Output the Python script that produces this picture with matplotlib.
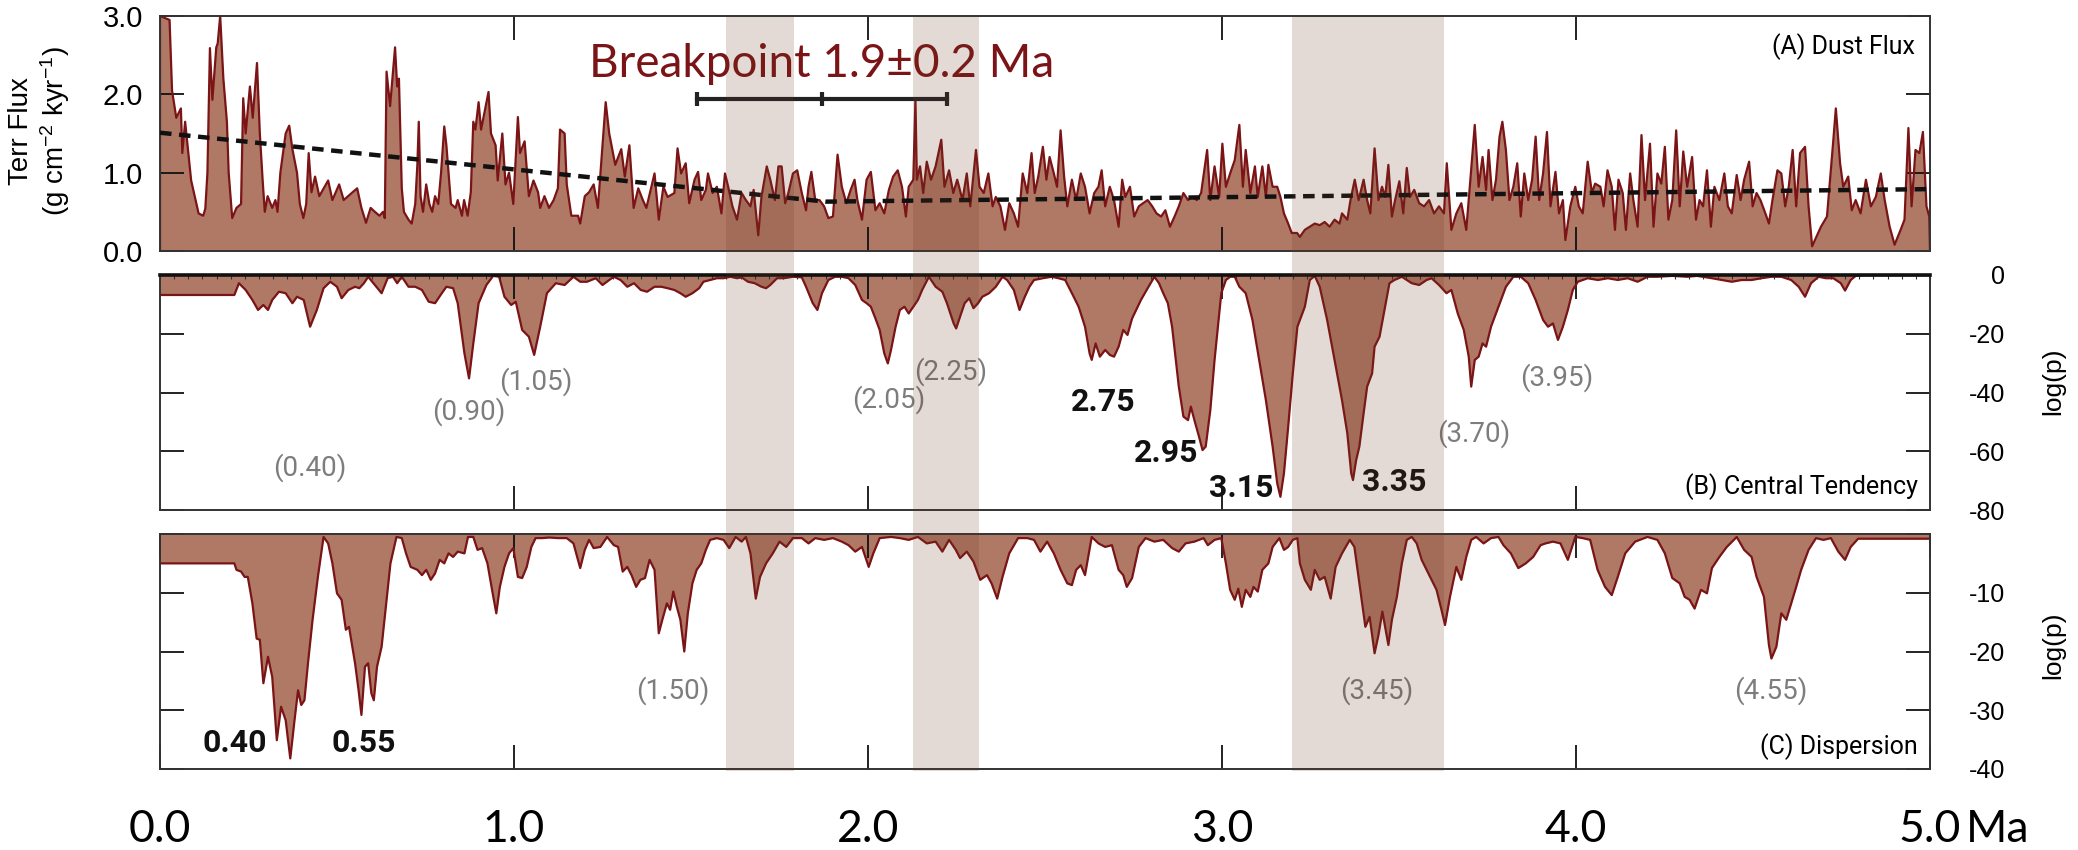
import matplotlib
matplotlib.use("Agg")
import matplotlib.pyplot as plt
from matplotlib.patches import Rectangle
from matplotlib.transforms import blended_transform_factory
from matplotlib.ticker import MultipleLocator

plt.rcParams['mathtext.fontset'] = 'custom'
plt.rcParams['mathtext.rm'] = 'Liberation Sans'
plt.rcParams['mathtext.default'] = 'rm'

# ---------------- (A) Dust flux (g cm-2 kyr-1) vs age (Ma) ----------------
dust_age = [
    0.000, 0.000, 0.027, 0.034, 0.046, 0.059, 0.063, 0.071, 0.088, 0.109, 0.122,
    0.128, 0.134, 0.141, 0.148, 0.159, 0.163, 0.170, 0.179, 0.189, 0.194,
    0.204, 0.216, 0.229, 0.235, 0.242, 0.254, 0.262, 0.274, 0.282, 0.290,
    0.296, 0.304, 0.317, 0.326, 0.332, 0.340, 0.355, 0.365, 0.374, 0.387,
    0.395, 0.405, 0.413, 0.420, 0.428, 0.438, 0.450, 0.475, 0.487, 0.506,
    0.519, 0.544, 0.557, 0.569, 0.582, 0.595, 0.607, 0.620, 0.630, 0.635,
    0.640, 0.650, 0.664, 0.670, 0.675, 0.683, 0.689, 0.702, 0.711, 0.721,
    0.727, 0.731, 0.736, 0.743, 0.752, 0.761, 0.769, 0.777, 0.786, 0.794,
    0.803, 0.809, 0.822, 0.835, 0.841, 0.853, 0.859, 0.869, 0.878, 0.885,
    0.891, 0.900, 0.907, 0.928, 0.935, 0.948, 0.954, 0.967, 0.976, 0.986,
    0.998, 1.011, 1.017, 1.030, 1.042, 1.055, 1.068, 1.074, 1.086, 1.099,
    1.112, 1.124, 1.130, 1.143, 1.149, 1.162, 1.181, 1.187, 1.200, 1.212,
    1.225, 1.237, 1.259, 1.269, 1.286, 1.303, 1.313, 1.326, 1.338, 1.351,
    1.364, 1.374,
    1.397, 1.409, 1.422, 1.434, 1.453, 1.462, 1.472, 1.485, 1.495, 1.510,
    1.520, 1.529, 1.542, 1.548, 1.561, 1.573, 1.586, 1.596, 1.605, 1.617,
    1.630, 1.643, 1.655, 1.668, 1.677, 1.690, 1.699, 1.714, 1.724, 1.737,
    1.747, 1.756, 1.766, 1.775, 1.788, 1.800, 1.813, 1.825, 1.832, 1.840,
    1.851, 1.863, 1.876, 1.888, 1.901, 1.914, 1.926, 1.939, 1.951, 1.962,
    1.970, 1.983, 1.996, 2.008, 2.021, 2.033, 2.046, 2.059, 2.071, 2.084,
    2.096, 2.107, 2.115, 2.128, 2.134, 2.138, 2.147, 2.156, 2.166, 2.178,
    2.191, 2.207, 2.216, 2.229, 2.241, 2.252, 2.267, 2.279, 2.289, 2.305,
    2.315, 2.327, 2.340, 2.352, 2.361, 2.374, 2.387, 2.399, 2.412, 2.424,
    2.437, 2.450, 2.462, 2.471, 2.481, 2.494, 2.504, 2.513, 2.525, 2.534,
    2.544, 2.554, 2.563, 2.576, 2.588, 2.601, 2.613, 2.626, 2.639, 2.651,
    2.660, 2.670, 2.683, 2.695, 2.708, 2.718, 2.727, 2.740, 2.752, 2.765,
    2.777, 2.790, 2.803, 2.815, 2.828, 2.840, 2.853, 2.866, 2.878, 2.891,
    2.904, 2.916, 2.929, 2.941, 2.958, 2.967, 2.979, 2.992, 3.001, 3.011,
    3.023, 3.036, 3.049, 3.059, 3.067, 3.080, 3.093, 3.101, 3.114, 3.124,
    3.131, 3.143, 3.156, 3.165, 3.175, 3.187, 3.197, 3.212,
    3.220, 3.234, 3.248, 3.262, 3.276, 3.290, 3.304, 3.318, 3.332, 3.339,
    3.354, 3.363, 3.375, 3.386, 3.400, 3.410, 3.419, 3.431, 3.442, 3.452,
    3.461, 3.470, 3.480, 3.489, 3.501, 3.512, 3.522, 3.531, 3.543, 3.557,
    3.571, 3.585, 3.599, 3.613, 3.627, 3.635, 3.648, 3.662, 3.676, 3.690,
    3.700, 3.714, 3.725, 3.736, 3.746, 3.753, 3.764, 3.774, 3.784, 3.792,
    3.802, 3.812, 3.823, 3.834, 3.844, 3.854, 3.865, 3.876, 3.886, 3.896,
    3.907, 3.918, 3.928, 3.942, 3.952, 3.963, 3.970, 3.984, 3.998, 4.008,
    4.019, 4.033, 4.045, 4.054, 4.069, 4.078, 4.089, 4.101, 4.110, 4.120,
    4.132, 4.141, 4.153, 4.162, 4.174, 4.185, 4.195, 4.209, 4.219, 4.230,
    4.241, 4.251, 4.261, 4.272, 4.283, 4.293, 4.303, 4.314, 4.328, 4.339,
    4.349, 4.359, 4.370, 4.381, 4.391, 4.405, 4.419, 4.429, 4.440, 4.454,
    4.465, 4.475, 4.489, 4.499, 4.510, 4.521, 4.535, 4.545, 4.555, 4.569,
    4.580, 4.591, 4.601, 4.612, 4.622, 4.633, 4.647, 4.657, 4.667, 4.692,
    4.709, 4.727, 4.734, 4.746, 4.755, 4.769, 4.779, 4.790, 4.804, 4.819,
    4.833, 4.847, 4.861, 4.872, 4.886, 4.900, 4.917, 4.928, 4.939, 4.948,
    4.959, 4.970, 4.980, 4.990, 4.998, 5.000,
]
dust_flux = [
    0.00, 3.00, 2.95, 2.05, 1.70, 1.82, 1.25, 1.65, 0.90, 0.48, 0.45,
    0.54, 1.00, 2.59, 1.93, 2.60, 2.65, 3.00, 2.20, 1.65, 1.00,
    0.42, 0.55, 0.60, 1.95, 1.50, 2.10, 1.70, 2.40, 1.50, 0.90,
    0.50, 0.70, 0.55, 0.65, 0.50, 1.00, 1.50, 1.60, 1.30, 1.00,
    0.60, 0.42, 0.60, 1.25, 0.75, 0.95, 0.70, 0.90, 0.65, 0.85,
    0.65, 0.75, 0.80, 0.55, 0.36, 0.55, 0.50, 0.45, 0.50, 0.42,
    2.29, 1.85, 2.60, 2.10, 2.20, 0.80, 0.50, 0.40, 0.35, 0.60,
    1.10, 1.65, 0.70, 0.50, 0.85, 0.60, 0.50, 0.70, 0.60, 1.00,
    1.59, 1.35, 0.60, 0.55, 0.65, 0.45, 0.65, 0.45, 0.75, 1.65,
    1.55, 1.90, 1.55, 2.03, 1.50, 1.35, 0.90, 1.50, 0.85, 1.00,
    0.60, 1.71, 1.25, 1.40, 0.70, 0.90, 0.75, 0.55, 0.70, 0.55,
    0.65, 0.80, 1.55, 1.50, 0.85, 0.45, 0.45, 0.35, 0.70, 0.75,
    0.85, 0.55, 1.90, 1.50, 1.10, 1.30, 0.95, 1.35, 0.55, 0.80,
    0.65, 0.55,
    0.99, 0.40, 0.82, 0.69, 0.74, 1.31, 0.99, 1.12, 0.61, 0.91,
    1.01, 0.65, 0.78, 0.99, 0.74, 0.82, 0.48, 0.99, 0.82, 0.57,
    0.40, 0.74, 0.65, 0.57, 0.78, 0.20, 0.69, 1.08, 0.91, 0.65,
    1.08, 1.08, 0.61, 0.74, 0.99, 1.03, 0.74, 0.52, 0.82, 1.01,
    0.65, 0.65, 0.57, 0.42, 0.44, 1.23, 0.82, 0.61, 0.78, 0.91,
    0.65, 0.40, 0.91, 1.01, 0.52, 0.61, 0.48, 0.78, 0.95, 1.03,
    0.82, 0.44, 0.82, 0.91, 1.93, 0.91, 1.08, 0.74, 1.14, 0.91,
    1.08, 1.42, 0.82, 1.03, 0.74, 0.91, 0.65, 0.99, 0.57, 1.29,
    0.82, 0.74, 0.99, 0.57, 0.69, 0.57, 0.27, 0.61, 0.48, 0.31,
    0.99, 0.74, 1.25, 0.74, 0.95, 1.33, 0.91, 1.20, 0.99, 0.82,
    1.54, 0.95, 0.57, 0.91, 0.65, 0.99, 0.82, 0.48, 0.74, 0.82,
    1.03, 0.57, 0.82, 0.65, 0.31, 0.91, 0.69, 0.82, 0.44, 0.57,
    0.61, 0.65, 0.57, 0.48, 0.44, 0.52, 0.31, 0.44, 0.57, 0.74,
    0.65, 0.69, 0.65, 0.74, 1.29, 0.65, 1.08, 0.69, 1.37, 0.82,
    0.99, 1.16, 1.61, 0.82, 1.29, 0.74, 1.08, 0.69, 1.08, 0.69,
    1.10, 0.82, 0.82, 0.69, 0.48, 0.35, 0.23, 0.23,
    0.18, 0.27, 0.31, 0.35, 0.33, 0.37, 0.31, 0.40, 0.35, 0.48,
    0.40, 0.65, 0.91, 0.65, 0.91, 0.65, 0.48, 1.31, 0.65, 0.82,
    0.69, 1.10, 0.44, 0.65, 0.89, 0.48, 1.06, 0.69, 0.78, 0.61,
    0.57, 0.65, 0.48, 0.57, 0.48, 1.12, 0.27, 0.48, 0.61, 0.27,
    0.82, 1.61, 0.82, 1.20, 0.78, 1.29, 0.65, 0.91, 1.46, 1.65,
    1.29, 0.65, 0.82, 1.12, 0.44, 0.99, 0.65, 0.91, 1.46, 0.65,
    0.99, 1.52, 0.57, 1.01, 0.48, 0.65, 0.14, 0.57, 0.82, 0.57,
    0.48, 1.14, 0.74, 0.86, 0.82, 0.57, 1.03, 0.82, 0.27, 0.91,
    0.74, 0.27, 0.99, 0.65, 0.31, 1.48, 0.65, 1.37, 0.31, 0.99,
    0.86, 1.33, 0.40, 0.65, 1.54, 0.57, 1.27, 0.82, 1.20, 0.40,
    0.65, 0.57, 1.03, 0.31, 0.82, 0.65, 0.99, 0.57, 0.48, 0.97,
    0.65, 0.91, 1.14, 0.57, 0.74, 0.65, 0.48, 0.35, 0.65, 1.03,
    0.99, 0.57, 0.82, 1.29, 0.57, 1.25, 1.33, 0.57, 0.06, 0.31,
    0.44, 1.42, 1.82, 1.12, 0.82, 0.95, 0.52, 0.65, 0.48, 0.91,
    0.57, 0.69, 0.99, 0.65, 0.31, 0.08, 0.27, 0.40, 1.57, 0.57,
    1.29, 1.25, 1.52, 0.57, 0.44, 0.00,
]

# Piecewise-linear trend (breakpoint fit)
trend_age = [0.0, 1.88, 5.0]
trend_flux = [1.51, 0.63, 0.79]

# Breakpoint estimate with range
bp_center, bp_low, bp_high, bp_level = 1.87, 1.517, 2.223, 1.94

# ---------------- (B) Central tendency log(p) ----------------
ct_age = [
    0.000, 0.008, 0.210, 0.223, 0.242, 0.261, 0.277, 0.292, 0.305, 0.317,
    0.336, 0.355, 0.374, 0.387, 0.406, 0.424, 0.443, 0.462, 0.481, 0.500,
    0.513, 0.532, 0.551, 0.563, 0.576, 0.588, 0.607, 0.626, 0.643, 0.658,
    0.670, 0.683, 0.702, 0.721, 0.740, 0.759, 0.777, 0.796, 0.809, 0.828,
    0.841, 0.860, 0.873, 0.885, 0.900, 0.922, 0.941, 0.958, 0.973, 0.992,
    1.005, 1.023, 1.042, 1.057, 1.074, 1.093, 1.118, 1.143, 1.168, 1.187,
    1.206, 1.231, 1.250, 1.269, 1.282, 1.301, 1.320, 1.339, 1.358, 1.376,
    1.397, 1.416, 1.434, 1.453, 1.470, 1.485, 1.504, 1.523, 1.535, 1.554,
    1.573, 1.592, 1.611, 1.630, 1.643, 1.661, 1.680, 1.699, 1.712, 1.724,
    1.743, 1.762, 1.788, 1.813, 1.825, 1.844, 1.857, 1.870, 1.888, 1.907,
    1.926, 1.945, 1.964, 1.983, 1.996, 2.008, 2.021, 2.033, 2.046, 2.056,
    2.065, 2.078, 2.090, 2.103, 2.115, 2.128, 2.141, 2.153, 2.172, 2.191,
    2.210, 2.223, 2.242, 2.249, 2.260, 2.273, 2.286, 2.298, 2.311, 2.323,
    2.342, 2.361, 2.380, 2.393, 2.412, 2.428, 2.443, 2.456, 2.469, 2.494,
    2.519, 2.538, 2.557, 2.576, 2.595, 2.613, 2.626, 2.632, 2.643, 2.655,
    2.670, 2.683, 2.695, 2.708, 2.721, 2.733, 2.746, 2.771, 2.790, 2.809,
    2.822, 2.834, 2.847, 2.859, 2.878, 2.891, 2.904, 2.912, 2.922, 2.935,
    2.945, 2.954, 2.967, 2.979, 2.998, 3.011, 3.023, 3.036, 3.049, 3.067,
    3.086, 3.105, 3.124, 3.143, 3.156, 3.165, 3.175, 3.187, 3.200, 3.213,
    3.234, 3.248, 3.262, 3.276, 3.297, 3.318, 3.339, 3.354, 3.365, 3.370,
    3.379, 3.388, 3.400, 3.410, 3.424, 3.431, 3.445, 3.459, 3.473, 3.487,
    3.508, 3.522, 3.536, 3.557, 3.578, 3.592, 3.613, 3.634, 3.648, 3.666,
    3.683, 3.697, 3.704, 3.714, 3.725, 3.736, 3.746, 3.760, 3.781, 3.802,
    3.823, 3.844, 3.865, 3.886, 3.907, 3.921, 3.935, 3.949, 3.963, 3.977,
    3.991, 4.005, 4.033, 4.062, 4.090, 4.118, 4.146, 4.174, 4.202, 4.230,
    4.272, 4.314, 4.342, 4.384, 4.412, 4.440, 4.468, 4.496, 4.524, 4.552,
    4.580, 4.608, 4.629, 4.647, 4.664, 4.685, 4.706, 4.727, 4.748, 4.760,
    4.776, 4.790, 4.819, 5.000,
]
ct_logp = [
    -6.8, -6.8, -6.8, -2.8, -5.1, -8.5, -11.9, -10.2, -11.9, -8.5,
    -5.7, -6.2, -9.6, -7.4, -8.5, -17.6, -11.9, -4.5, -2.3, -4.0,
    -7.9, -5.1, -4.0, -4.5, -2.8, -0.6, -3.4, -6.2, -1.1, -0.6,
    -2.8, -0.6, -4.0, -4.0, -5.1, -9.1, -9.6, -6.2, -4.0, -4.5,
    -9.6, -26.7, -35.2, -23.3, -9.6, -3.4, -0.3, -0.6, -7.4, -10.2,
    -9.1, -18.7, -21.0, -27.2, -17.6, -6.2, -2.8, -3.4, -0.6, -2.3,
    -2.3, -1.1, -3.4, -1.7, -0.6, -1.7, -4.0, -2.8, -5.1, -5.7,
    -4.0, -4.0, -4.5, -5.1, -6.2, -7.4, -6.2, -4.5, -2.3, -1.7,
    -1.1, -1.1, -0.6, -1.1, -0.8, -2.3, -2.8, -4.0, -4.5, -3.4,
    -1.1, -1.1, -0.6, -0.8, -4.0, -9.6, -11.9, -6.2, -1.7, -0.6,
    -0.6, -1.1, -3.4, -8.5, -9.6, -10.8, -14.8, -18.7, -26.7, -30.1,
    -25.5, -17.6, -11.9, -10.8, -13.1, -10.8, -8.5, -5.1, -0.6, -4.0,
    -5.7, -9.6, -16.5, -18.2, -14.2, -9.6, -7.9, -11.3, -9.6, -7.4,
    -6.2, -4.0, -0.6, -1.7, -5.1, -11.9, -7.4, -4.0, -1.7, -1.1,
    -0.6, -1.1, -1.7, -6.2, -10.8, -17.6, -26.7, -28.9, -23.3, -27.8,
    -25.5, -27.2, -27.8, -24.4, -18.7, -20.4, -14.8, -8.5, -4.5, -0.6,
    -2.8, -6.2, -9.6, -17.6, -38.0, -48.2, -49.4, -44.8, -49.4, -55.0,
    -59.6, -58.4, -46.0, -28.9, -6.2, -1.7, -0.6, -0.6, -4.0, -6.2,
    -15.3, -28.9, -42.6, -58.4, -70.9, -75.5, -67.5, -51.6, -33.5, -17.6,
    -10.8, -1.7, -0.3, -4.0, -15.3, -28.9, -42.6, -53.9, -67.5, -69.8,
    -63.0, -58.4, -47.1, -38.0, -33.5, -24.4, -21.0, -11.9, -2.8, -1.7,
    -0.6, -1.7, -2.8, -3.4, -1.7, -1.1, -3.4, -6.2, -5.1, -13.1,
    -18.7, -27.8, -38.0, -28.9, -27.8, -23.3, -24.4, -17.6, -10.8, -4.0,
    -0.6, -0.6, -2.8, -8.5, -15.3, -17.6, -16.5, -22.1, -17.6, -11.9,
    -5.1, -2.3, -1.1, -1.7, -1.1, -1.7, -1.1, -2.3, -0.6, -0.6,
    -0.3, -0.6, -0.3, -1.1, -1.7, -2.3, -1.7, -1.7, -1.1, -0.6,
    -0.6, -1.7, -4.0, -7.4, -2.8, -0.6, -1.1, -1.1, -2.8, -5.3,
    -1.7, -0.3, -0.1, -0.1,
]

# ---------------- (C) Dispersion log(p) ----------------
disp_age = [
    0.000, 0.002, 0.210, 0.216, 0.229, 0.239, 0.248, 0.261, 0.273, 0.282,
    0.292, 0.305, 0.317, 0.330, 0.342, 0.355, 0.368, 0.380, 0.390, 0.399,
    0.408, 0.418, 0.431, 0.446, 0.462, 0.475, 0.487, 0.500, 0.513, 0.525,
    0.534, 0.551, 0.561, 0.569, 0.579, 0.588, 0.597, 0.604, 0.613, 0.626,
    0.639, 0.651, 0.668, 0.683, 0.695, 0.708, 0.727, 0.740, 0.752, 0.765,
    0.777, 0.790, 0.803, 0.815, 0.828, 0.841, 0.860, 0.870, 0.885, 0.897,
    0.910, 0.925, 0.938, 0.950, 0.960, 0.973, 0.986, 0.998, 1.011, 1.023,
    1.036, 1.049, 1.061, 1.080, 1.099, 1.124, 1.149, 1.168, 1.187, 1.200,
    1.212, 1.225, 1.244, 1.263, 1.282, 1.294, 1.307, 1.320, 1.332, 1.345,
    1.357, 1.370, 1.383,
    1.397, 1.409, 1.419, 1.432, 1.441, 1.450, 1.460, 1.470, 1.481, 1.491,
    1.504, 1.516, 1.529, 1.542, 1.554, 1.573, 1.592, 1.608, 1.626, 1.643,
    1.655, 1.668, 1.683, 1.695, 1.712, 1.731, 1.750, 1.769, 1.788, 1.813,
    1.832, 1.851, 1.876, 1.901, 1.926, 1.945, 1.964, 1.983, 2.002, 2.015,
    2.033, 2.065, 2.090, 2.115, 2.141, 2.166, 2.191, 2.210, 2.229, 2.248,
    2.260, 2.279, 2.298, 2.317, 2.336, 2.349, 2.365, 2.380, 2.399, 2.424,
    2.450, 2.469, 2.487, 2.506, 2.525, 2.544, 2.563, 2.576, 2.588, 2.601,
    2.613, 2.632, 2.651, 2.670, 2.689, 2.708, 2.721, 2.731, 2.746, 2.765,
    2.784, 2.809, 2.834, 2.859, 2.878, 2.897, 2.922, 2.948, 2.960, 2.979,
    2.998, 3.011, 3.023, 3.036, 3.046, 3.056, 3.067, 3.080, 3.089, 3.101,
    3.114, 3.131, 3.143, 3.162, 3.175, 3.187, 3.200, 3.213,
    3.220, 3.234, 3.251, 3.262, 3.276, 3.290, 3.307, 3.321, 3.339, 3.361,
    3.374, 3.388, 3.405, 3.417, 3.431, 3.442, 3.453, 3.470, 3.480, 3.494,
    3.508, 3.522, 3.536, 3.550, 3.564, 3.588, 3.606, 3.620, 3.630, 3.644,
    3.662, 3.676, 3.690, 3.704, 3.718, 3.739, 3.760, 3.781, 3.795, 3.816,
    3.837, 3.858, 3.879, 3.900, 3.914, 3.935, 3.956, 3.977, 3.998, 4.019,
    4.040, 4.061, 4.082, 4.101, 4.118, 4.139, 4.167, 4.202, 4.230, 4.251,
    4.272, 4.293, 4.307, 4.321, 4.335, 4.353, 4.370, 4.384, 4.405, 4.426,
    4.454, 4.475, 4.496, 4.510, 4.531, 4.545, 4.552, 4.566, 4.580, 4.594,
    4.608, 4.622, 4.636, 4.657, 4.678, 4.699, 4.720, 4.741, 4.760, 4.776,
    4.797, 5.000,
]
disp_logp = [
    -5.0, -5.0, -5.0, -6.1, -6.4, -7.3, -7.3, -11.8, -17.8, -18.0,
    -25.4, -20.9, -24.3, -35.1, -29.4, -31.7, -38.2, -31.7, -26.6, -29.1,
    -28.3, -22.0, -14.6, -7.3, -0.5, -1.6, -5.0, -10.1, -11.2, -16.3,
    -15.8, -22.0, -26.6, -30.8, -22.6, -22.0, -27.1, -28.3, -22.6, -19.2,
    -11.8, -5.0, -0.5, -0.7, -3.3, -5.6, -6.1, -7.0, -6.1, -7.8,
    -6.7, -4.4, -5.0, -3.3, -3.9, -3.0, -3.3, -0.5, -0.5, -2.7,
    -2.4, -5.0, -9.5, -13.5, -9.0, -5.6, -3.3, -2.4, -7.3, -7.5,
    -5.6, -2.2, -0.7, -0.7, -0.6, -0.7, -0.7, -1.6, -5.8, -2.7,
    -1.0, -2.4, -2.2, -0.5, -1.9, -2.2, -6.4, -5.6, -7.0, -9.0,
    -7.8, -7.5, -4.4,
    -6.1, -16.9, -14.6, -11.8, -12.9, -9.8, -12.4, -14.6, -20.0, -13.5,
    -8.4, -6.1, -5.0, -2.7, -1.0, -0.7, -1.0, -2.4, -0.5, -1.3,
    -0.5, -3.3, -11.0, -7.3, -5.0, -3.3, -1.3, -2.2, -0.7, -0.7,
    -1.6, -0.7, -1.0, -0.7, -1.3, -1.9, -3.0, -2.2, -5.6, -3.3,
    -0.7, -0.5, -0.7, -1.0, -0.5, -1.6, -1.3, -3.0, -1.0, -2.7,
    -4.1, -3.0, -4.7, -7.8, -7.0, -8.4, -11.0, -7.3, -3.3, -0.7,
    -0.7, -1.0, -3.0, -1.3, -3.3, -6.1, -8.4, -8.7, -6.1, -5.3,
    -7.0, -0.5, -1.6, -2.2, -1.9, -6.1, -7.0, -9.0, -7.5, -2.2,
    -0.7, -1.3, -1.0, -2.4, -3.0, -1.6, -1.3, -0.7, -1.9, -1.0,
    -0.7, -5.0, -9.5, -11.2, -9.3, -12.4, -9.5, -10.7, -9.0, -9.8,
    -6.1, -5.0, -2.2, -0.7, -2.7, -2.2, -1.0, -0.7,
    -5.0, -7.8, -9.5, -6.1, -7.8, -7.3, -11.0, -5.6, -3.3, -1.0,
    -2.2, -8.4, -15.8, -14.1, -20.3, -17.2, -13.2, -18.9, -14.6, -10.7,
    -5.0, -1.0, -0.5, -1.6, -4.4, -7.3, -9.5, -12.9, -15.5, -10.7,
    -5.6, -7.8, -3.9, -1.0, -0.5, -1.6, -0.7, -0.5, -1.9, -3.3,
    -5.8, -5.0, -3.9, -1.9, -1.6, -1.3, -1.6, -4.4, -0.5, -0.7,
    -1.0, -6.1, -9.0, -10.4, -7.3, -3.3, -1.3, -0.5, -1.0, -3.3,
    -7.5, -8.4, -10.7, -11.2, -12.7, -9.5, -10.1, -5.8, -3.9, -2.2,
    -0.5, -2.7, -3.9, -7.3, -10.7, -18.9, -21.2, -19.2, -13.5, -14.6,
    -11.8, -9.0, -6.1, -2.7, -0.7, -1.0, -0.7, -3.0, -4.4, -2.2,
    -0.8, -0.8,
]

# Highlighted intervals (Ma)
band_start = [1.60, 2.127, 3.198]
band_end = [1.79, 2.314, 3.627]

# Annotations: (text, age, log p)
ct_gray_labels = ["(0.40)", "(0.90)", "(1.05)", "(2.05)", "(2.25)", "(3.70)", "(3.95)"]
ct_gray_x = [0.424, 0.873, 1.062, 2.059, 2.234, 3.712, 3.946]
ct_gray_y = [-65.4, -46.6, -36.4, -42.5, -32.9, -53.9, -35.1]
ct_bold_labels = ["2.75", "2.95", "3.15", "3.35"]
ct_bold_x = [2.664, 2.842, 3.054, 3.486]
ct_bold_y = [-43.2, -60.6, -72.5, -70.5]
disp_gray_labels = ["(1.50)", "(3.45)", "(4.55)"]
disp_gray_x = [1.449, 3.438, 4.551]
disp_gray_y = [-26.6, -26.6, -26.6]
disp_bold_labels = ["0.40", "0.55"]
disp_bold_x = [0.212, 0.576]
disp_bold_y = [-35.6, -35.6]

x_ticks = [0, 1, 2, 3, 4, 5]
x_tick_labels = ["0.0", "1.0", "2.0", "3.0", "4.0", "5.0"]
a_ticks = [0, 1, 2, 3]
a_tick_labels = ["0.0", "1.0", "2.0", "3.0"]
b_ticks = [0, -20, -40, -60, -80]
b_tick_labels = ["0", "-20", "-40", "-60", "-80"]
c_ticks = [0, -10, -20, -30, -40]
c_tick_labels = ["", "-10", "-20", "-30", "-40"]

assert len(dust_age) == len(dust_flux), (len(dust_age), len(dust_flux))
assert len(ct_age) == len(ct_logp), (len(ct_age), len(ct_logp))
assert len(disp_age) == len(disp_logp), (len(disp_age), len(disp_logp))

# ---------------- styling ----------------
FILL = '#b07966'
LINE = '#7b1416'
BAND = '#6b3722'
GRAY = '#7d7d7d'
NUMFONT = ['Liberation Sans', 'DejaVu Sans']
LABFONT = ['Roboto', 'DejaVu Sans']
GILL = ['Lato', 'DejaVu Sans']

W_PX, H_PX = 2078, 850
fig = plt.figure(figsize=(W_PX / 100, H_PX / 100), dpi=100)


def fx(px):
    return px / W_PX


def fy(px):
    return 1 - px / H_PX


left_px, right_px = 160, 1930
panel_h = 235 / H_PX
axA = fig.add_axes([fx(left_px), fy(251), fx(right_px - left_px), panel_h])
axB = fig.add_axes([fx(left_px), fy(510), fx(right_px - left_px), panel_h])
axC = fig.add_axes([fx(left_px), fy(769), fx(right_px - left_px), panel_h])

for ax in (axA, axB, axC):
    ax.set_xlim(0, 5)
    ax.set_facecolor('none')
    for s in ax.spines.values():
        s.set_color('#333333')
        s.set_linewidth(1.4)
    ax.tick_params(axis='both', which='major', direction='in', length=17,
                   width=1.3, color='#111111', top=True, bottom=True,
                   left=True, right=True)

# (A)
axA.fill_between(dust_age, 0, dust_flux, color=FILL, lw=0, zorder=1)
axA.plot(dust_age, dust_flux, color=LINE, lw=1.6, zorder=2)
axA.plot(trend_age, trend_flux, color='#111111', lw=3.2,
         linestyle=(0, (2.6, 1.7)), zorder=3)
axA.plot([bp_low, bp_high], [bp_level, bp_level], color='#222222', lw=3, zorder=4)
axA.plot([bp_low, bp_center, bp_high], [bp_level] * 3, ls='none', marker='|',
         ms=10, mew=3, color='#222222', zorder=4)
axA.text((bp_low + bp_high) / 2, 2.39, 'Breakpoint 1.9\u00b10.2 Ma', ha='center',
         va='center', fontsize=33, color=LINE, family=GILL, fontweight='normal')
axA.set_ylim(0, 3)
axA.set_xticks(x_ticks[1:-1])
axA.set_yticks(a_ticks)
axA.set_yticklabels(a_tick_labels, fontsize=21, family=NUMFONT)
axA.tick_params(axis='x', labelbottom=False)
axA.tick_params(axis='y', labelleft=True, labelright=False, pad=12)

# (B)
axB.fill_between(ct_age, ct_logp, 0, color=FILL, lw=0, zorder=1)
axB.plot(ct_age, ct_logp, color=LINE, lw=1.6, zorder=2)
axB.set_ylim(-80, 0)
axB.set_xticks(x_ticks[1:-1])
axB.xaxis.set_minor_locator(MultipleLocator(0.04))
axB.tick_params(axis='x', which='minor', direction='in', length=3, width=0.8,
                color='#333333', top=True, bottom=False, labelbottom=False)
axB.tick_params(axis='x', labelbottom=False)
axB.spines['top'].set_linewidth(2.6)
axB.spines['top'].set_color('#111111')
axB.set_yticks(b_ticks)
axB.set_yticklabels(b_tick_labels, fontsize=18, family=NUMFONT)
axB.tick_params(axis='y', labelleft=False, labelright=True, pad=54)
for lab in axB.get_yticklabels():
    lab.set_horizontalalignment('right')
for t, x, y in zip(ct_gray_labels, ct_gray_x, ct_gray_y):
    axB.text(x, y, t, ha='center', va='center', fontsize=20, color=GRAY,
             family=LABFONT)
for t, x, y in zip(ct_bold_labels, ct_bold_x, ct_bold_y):
    axB.text(x, y, t, ha='center', va='center', fontsize=23, color='#111111',
             family=LABFONT, fontweight='bold')

# (C)
axC.fill_between(disp_age, disp_logp, 0, color=FILL, lw=0, zorder=1)
axC.plot(disp_age, disp_logp, color=LINE, lw=1.6, zorder=2)
axC.set_ylim(-40, 0)
axC.set_yticks(c_ticks)
axC.set_yticklabels(c_tick_labels, fontsize=18, family=NUMFONT)
axC.tick_params(axis='y', labelleft=False, labelright=True, pad=54)
for lab in axC.get_yticklabels():
    lab.set_horizontalalignment('right')
axC.set_xticks(x_ticks)
axC.set_xticklabels(x_tick_labels, fontsize=32, family=GILL, fontweight='normal')
axC.tick_params(axis='x', pad=29)
for t, x, y in zip(disp_gray_labels, disp_gray_x, disp_gray_y):
    axC.text(x, y, t, ha='center', va='center', fontsize=20, color=GRAY,
             family=LABFONT)
for t, x, y in zip(disp_bold_labels, disp_bold_x, disp_bold_y):
    axC.text(x, y, t, ha='center', va='center', fontsize=23, color='#111111',
             family=LABFONT, fontweight='bold')

# unit after last tick label
fig.text(fx(1966), fy(769 + 29 * 100 / 72), 'Ma', ha='left', va='top',
         fontsize=32, family=GILL, fontweight='normal')

# panel titles
fig.text(fx(1915), fy(47), '(A) Dust Flux', ha='right', va='center',
         fontsize=18, family=LABFONT)
fig.text(fx(1918), fy(487), '(B) Central Tendency', ha='right', va='center',
         fontsize=18, family=LABFONT)
fig.text(fx(1918), fy(747), '(C) Dispersion', ha='right', va='center',
         fontsize=18, family=LABFONT)

# axis titles
fig.text(fx(40), fy(131), 'Terr Flux\n(g cm$^{-2}$ kyr$^{-1}$)', rotation=90,
         ha='center', va='center', fontsize=20, family=NUMFONT,
         multialignment='center', linespacing=1.15)
fig.text(fx(2053), fy(381), 'log(p)', rotation=90, ha='center', va='center',
         fontsize=19, family=NUMFONT)
fig.text(fx(2053), fy(645), 'log(p)', rotation=90, ha='center', va='center',
         fontsize=19, family=NUMFONT)

# shaded intervals spanning all panels
trans = blended_transform_factory(axA.transData, fig.transFigure)
for x0, x1 in zip(band_start, band_end):
    rect = Rectangle((x0, fy(771)), x1 - x0, (771 - 17) / H_PX, transform=trans,
                     facecolor=BAND, edgecolor='none', alpha=0.19, zorder=5)
    fig.add_artist(rect)

fig.savefig('out.png', dpi=100)
